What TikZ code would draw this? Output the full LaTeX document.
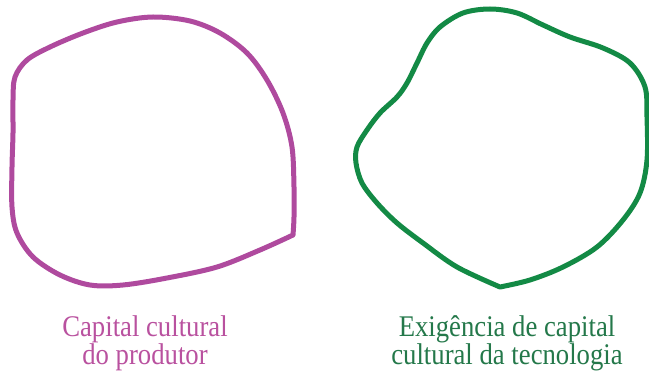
\documentclass[tikz,border=0pt]{standalone}
\usepackage{fontspec}
\newfontfamily\labelfont[FakeStretch=0.89]{Liberation Serif}
\usepackage{xcolor}
\usepackage{tikz}

\definecolor{blobpink}{HTML}{AF4A9E}
\definecolor{blobgreen}{HTML}{138A45}
\definecolor{textpink}{HTML}{B9519F}
\definecolor{textgreen}{HTML}{24784A}

\begin{document}
\begin{tikzpicture}[
  x=1pt, y=-1pt,
  blob/.style={line width=5pt, line join=round, line cap=round},
  caption/.style={font=\labelfont\fontsize{30}{28}\selectfont, align=center, anchor=base, inner sep=0pt}
]
\useasboundingbox (0,0) rectangle (649,374);

% producer
\draw[blob, blobpink] plot[smooth, tension=0.55] coordinates {
  (293,235) (260,250) (217,267) (167,278) (123,285) (90,285) (60,275)
  (33,257) (17,233) (12,207) (12,167) (13,133) (13,100) (15,77) (27,60)
  (50,47) (83,33) (117,22) (153,17) (190,21) (220,33) (247,53) (267,80)
  (283,113) (292,147) (294,187) (294,217) (293,235)};

% technology
\draw[blob, blobgreen] plot[smooth, tension=0.55] coordinates {
  (500,287) (530,280) (563,267) (597,247) (623,220) (640,193) (647,160)
  (647,117) (645,87) (630,63) (603,48) (570,37) (543,25) (517,13)
  (490,9) (463,13) (440,27) (427,43) (417,63) (407,83) (397,97)
  (380,113) (367,130) (357,147) (356,163) (362,183) (377,203) (397,223)
  (423,243) (457,267) (500,287)};

\node[caption, textpink] (producer) at (145,365) {Capital cultural\\do produtor};
\node[caption, textgreen] (technology) at (507,365) {Exigência de capital\\cultural da tecnologia};
\end{tikzpicture}
\end{document}
